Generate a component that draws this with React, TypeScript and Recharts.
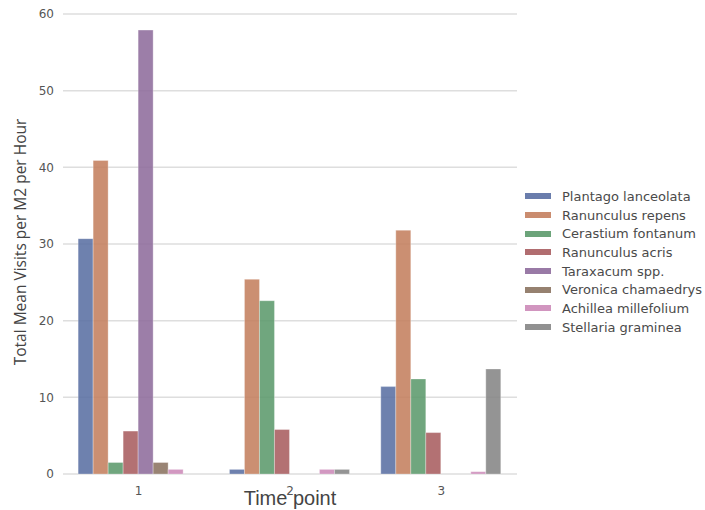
import React from 'react';
import { BarChart, Bar, XAxis, YAxis, CartesianGrid } from 'recharts';

const timePoints = ['1', '2', '3'];
const species = [
  'Plantago lanceolata',
  'Ranunculus repens',
  'Cerastium fontanum',
  'Ranunculus acris',
  'Taraxacum spp.',
  'Veronica chamaedrys',
  'Achillea millefolium',
  'Stellaria graminea',
];
const plantago = [30.7, 0.6, 11.4];
const ranunculusRepens = [40.9, 25.4, 31.8];
const cerastium = [1.5, 22.6, 12.4];
const ranunculusAcris = [5.6, 5.8, 5.4];
const taraxacum = [57.9, 0, 0];
const veronica = [1.5, 0, 0];
const achillea = [0.6, 0.6, 0.3];
const stellaria = [0, 0.6, 13.7];
const yTicks = [0, 10, 20, 30, 40, 50, 60];

const seriesValues = [plantago, ranunculusRepens, cerastium, ranunculusAcris, taraxacum, veronica, achillea, stellaria];
const colors = ['#5a6fa3', '#c4805f', '#5c9a6c', '#a95d60', '#8e6c9c', '#8b7361', '#cc8ab8', '#858585'];

const data = timePoints.map((t, i) => {
  const row: Record<string, number | string> = { time: t };
  species.forEach((s, k) => {
    row[s] = seriesValues[k][i];
  });
  return row;
});

const tickFont = { fontFamily: 'DejaVu Sans', fontSize: 12, fill: '#555' };

const LegendBox = () => (
  <div
    style={{
      position: 'absolute',
      left: 525,
      top: 187,
      fontFamily: 'DejaVu Sans',
      fontSize: 13,
      color: '#4a4a4a',
    }}
  >
    {species.map((s, k) => (
      <div key={s} style={{ display: 'flex', alignItems: 'center', height: 18.7 }}>
        <div style={{ width: 26, height: 6, background: colors[k], opacity: 0.9, marginRight: 11 }} />
        <span style={{ whiteSpace: 'nowrap' }}>{s}</span>
      </div>
    ))}
  </div>
);

export default function App() {
  return (
    <div style={{ position: 'absolute', left: 0, top: 0, width: 705, height: 510, background: '#fff' }}>
      <BarChart
        width={705}
        height={510}
        data={data}
        margin={{ top: 14, right: 188, left: 0, bottom: 0 }}
        barCategoryGap="10%"
        barGap={0}
      >
        <CartesianGrid vertical={false} stroke="#dedede" strokeWidth={1.5} />
        <XAxis
          dataKey="time"
          height={36}
          axisLine={false}
          tickLine={false}
          tickSize={0}
          tickMargin={12}
          tick={tickFont}
          label={{
            content: (props: any) => {
              const vb = props.viewBox || {};
              return (
                <text
                  x={vb.x + vb.width / 2}
                  y={vb.y + 31}
                  textAnchor="middle"
                  fontFamily="Liberation Sans"
                  fontSize={20}
                  fill="#444"
                >
                  Time point
                </text>
              );
            },
          }}
        />
        <YAxis
          width={63}
          domain={[0, 60]}
          ticks={yTicks}
          axisLine={false}
          tickLine={false}
          tickSize={0}
          tickMargin={9}
          tick={tickFont}
          label={{
            content: (props: any) => {
              const vb = props.viewBox || {};
              const cy = vb.y + vb.height / 2 - 2;
              return (
                <text
                  x={20}
                  y={cy}
                  transform={`rotate(-90 20 ${cy})`}
                  textAnchor="middle"
                  dominantBaseline="central"
                  fontFamily="Open Sans"
                  fontSize={15.5}
                  fill="#444"
                >
                  Total Mean Visits per M2 per Hour
                </text>
              );
            },
          }}
        />
        {species.map((s, k) => (
          <Bar
            key={s}
            dataKey={s}
            fill={colors[k]}
            fillOpacity={0.88}
            stroke="#ffffff"
            strokeOpacity={0.3}
            strokeWidth={1}
            isAnimationActive={false}
          />
        ))}
      </BarChart>
      <LegendBox />
    </div>
  );
}
